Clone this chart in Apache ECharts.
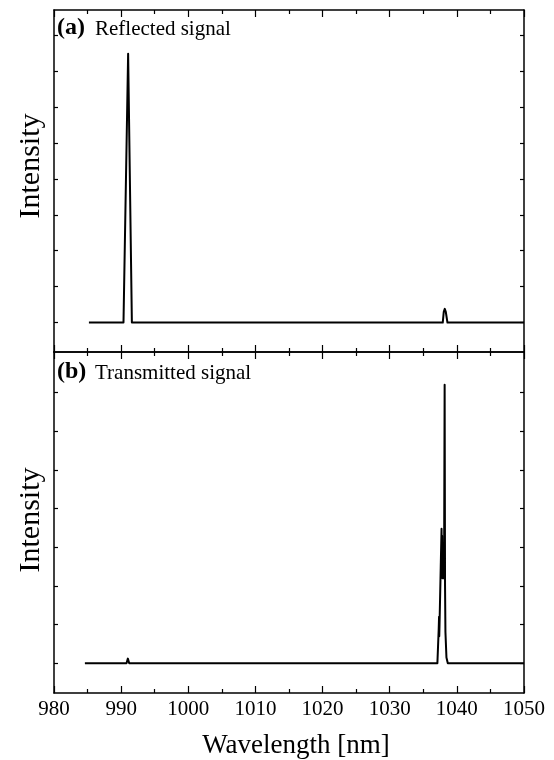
<!DOCTYPE html>
<html>
<head>
<meta charset="utf-8">
<script src="https://cdn.jsdelivr.net/npm/echarts@6/dist/echarts.min.js"></script>
<style>
html,body{margin:0;padding:0;background:#fff;}
#chart{width:554px;height:760px;}
</style>
</head>
<body>
<div id="chart"></div>
<script>
// 数据（波长 nm，强度 任意单位）
var reflectedWl = [985.2, 990.35, 991.04, 991.6, 1000.0, 1020.0,
    1037.9, 1038.05, 1038.2, 1038.35, 1038.6, 1045.0, 1050.0];
var reflectedVal = [0.0, 0.0, 7.48, 0.0, 0.0, 0.0,
    0.0, 0.3, 0.38, 0.3, 0.0, 0.0, 0.0];

var transWl = [984.6, 987.8, 987.95, 988.1, 990.8, 991.0, 991.2, 1037.1, 1037.3, 1037.35, 1037.38, 1037.42, 1037.6,
    1037.72, 1037.76, 1037.8, 1037.85, 1037.9, 1037.95, 1038.0, 1038.05, 1038.1, 1038.18, 1038.24, 1038.3,
    1038.45, 1038.65, 1050.0];
var transVal = [0.0, 0.0, 0.04, 0.0, 0.0, 0.12, 0.0, 0.0, 0.9, 1.2, 0.7, 1.0, 2.5,
    3.48, 2.4, 3.3, 2.2, 3.1, 2.2, 2.9, 2.2, 2.6, 7.2, 2.0, 0.8,
    0.15, 0.0, 0.0];

var topTicks = [0, 1, 2, 3, 4, 5, 6, 7, 8];
var bottomTicks = [0, 1, 2, 3, 4, 5, 6, 7];

function pairs(xs, ys) {
    var out = [];
    for (var i = 0; i < xs.length; i++) {
        out.push([xs[i], ys[i]]);
    }
    return out;
}

var serif = 'Liberation Serif';
var axisLine = {show: true, onZero: false, lineStyle: {color: '#000', width: 1.5}};

function xAxisFor(grid, pos, labels) {
    return {
        type: 'value', gridIndex: grid, position: pos,
        min: 980, max: 1050, interval: 10,
        axisLine: axisLine,
        axisTick: {inside: true, length: 7, lineStyle: {color: '#000', width: 1.2}},
        minorTick: {show: true, splitNumber: 2, length: 4, lineStyle: {color: '#000', width: 1.2}},
        splitLine: {show: false},
        axisLabel: {show: labels, color: '#000', fontFamily: serif, fontSize: 21, margin: 6,
            formatter: function (v) { return String(v); }},
        name: labels ? 'Wavelength [nm]' : '',
        nameLocation: 'middle', nameGap: 39,
        nameTextStyle: {color: '#000', fontFamily: serif, fontSize: 27, padding: [0, 0, 0, 14]}
    };
}

function yAxisFor(grid, pos, min, max, ticks) {
    return {
        type: 'value', gridIndex: grid, position: pos,
        min: min, max: max,
        axisLine: axisLine,
        axisTick: {inside: true, length: 4, customValues: ticks, lineStyle: {color: '#000', width: 1.2}},
        splitLine: {show: false},
        axisLabel: {show: false}
    };
}

var chart = echarts.init(document.getElementById('chart'));
chart.setOption({
    animation: false,
    backgroundColor: '#fff',
    grid: [
        {left: 54, right: 30, top: 10, height: 342},
        {left: 54, right: 30, top: 352, height: 342}
    ],
    xAxis: [
        xAxisFor(0, 'bottom', false),
        xAxisFor(0, 'top', false),
        xAxisFor(1, 'bottom', true),
        xAxisFor(1, 'top', false)
    ],
    yAxis: [
        yAxisFor(0, 'left', -0.82, 8.7, topTicks),
        yAxisFor(0, 'right', -0.82, 8.7, topTicks),
        yAxisFor(1, 'left', -0.77, 8.05, bottomTicks),
        yAxisFor(1, 'right', -0.77, 8.05, bottomTicks)
    ],
    series: [
        {
            type: 'line', xAxisIndex: 0, yAxisIndex: 0, showSymbol: false,
            data: pairs(reflectedWl, reflectedVal),
            lineStyle: {color: '#000', width: 2, join: 'round'}
        },
        {
            type: 'line', xAxisIndex: 2, yAxisIndex: 2, showSymbol: false,
            data: pairs(transWl, transVal),
            lineStyle: {color: '#000', width: 2, join: 'round'}
        }
    ],
    graphic: [
        {type: 'text', x: 57, y: 28, style: {text: '(a)', font: 'bold 24px "Liberation Serif"', fill: '#000', verticalAlign: 'middle'}},
        {type: 'text', x: 95, y: 29, style: {text: 'Reflected signal', font: '21px "Liberation Serif"', fill: '#000', verticalAlign: 'middle'}},
        {type: 'text', x: 57, y: 372, style: {text: '(b)', font: 'bold 24px "Liberation Serif"', fill: '#000', verticalAlign: 'middle'}},
        {type: 'text', x: 95, y: 373, style: {text: 'Transmitted signal', font: '21px "Liberation Serif"', fill: '#000', verticalAlign: 'middle'}},
        {type: 'text', x: 31, y: 166, rotation: Math.PI / 2, style: {text: 'Intensity', font: '30px "Liberation Serif"', fill: '#000', align: 'center', verticalAlign: 'middle'}},
        {type: 'text', x: 31, y: 520, rotation: Math.PI / 2, style: {text: 'Intensity', font: '30px "Liberation Serif"', fill: '#000', align: 'center', verticalAlign: 'middle'}}
    ]
});
</script>
</body>
</html>
